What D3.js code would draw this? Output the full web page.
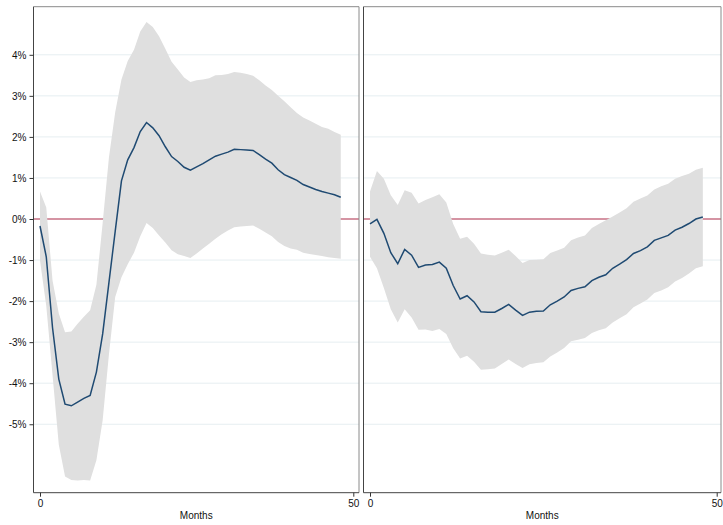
<!DOCTYPE html>
<html>
<head>
<meta charset="utf-8">
<title>Impulse responses</title>
<style>
    body, html {
        margin: 0;
        padding: 0;
        background: #fff;
        font-family: "Liberation Sans", Arial, sans-serif;
    }
    .axis .domain {
        display: none;
    }
    .axis text {
        font-size: 10px;
        fill: #111;
    }
    .axis line {
        stroke: #333;
    }
</style>
</head>
<body>
<div id="chart"></div>
<script src="https://d3js.org/d3.v7.min.js"></script>
<script>

    // months 0..48
    var months = d3.range(0, 49);

    // left panel: point estimate, upper and lower band (percent)
    var leftEst = [-0.17, -0.92, -2.65, -3.9, -4.51, -4.55, -4.46, -4.37, -4.3, -3.73,
        -2.8, -1.55, -0.3, 0.93, 1.44, 1.74, 2.13, 2.35, 2.22, 2.03,
        1.76, 1.52, 1.40, 1.26, 1.19, 1.27, 1.35, 1.44, 1.53, 1.58,
        1.63, 1.70, 1.69, 1.68, 1.67, 1.57, 1.46, 1.36, 1.20, 1.08,
        1.01, 0.94, 0.84, 0.78, 0.72, 0.67, 0.63, 0.59, 0.53];
    var leftUpper = [0.67, 0.28, -1.5, -2.3, -2.76, -2.74, -2.55, -2.38, -2.22, -1.6,
        -0.1, 1.5, 2.6, 3.4, 3.85, 4.12, 4.57, 4.8, 4.68, 4.45,
        4.15, 3.83, 3.64, 3.45, 3.34, 3.38, 3.40, 3.43, 3.50, 3.51,
        3.53, 3.58, 3.56, 3.53, 3.49, 3.38, 3.25, 3.14, 3.00, 2.87,
        2.72, 2.58, 2.47, 2.40, 2.32, 2.24, 2.20, 2.12, 2.05];
    var leftLower = [-1.01, -2.12, -3.8, -5.5, -6.27, -6.36, -6.37, -6.36, -6.37, -5.88,
        -4.9, -3.3, -1.9, -1.42, -1.1, -0.82, -0.42, -0.1, -0.22, -0.4,
        -0.57, -0.76, -0.86, -0.9, -0.95, -0.84, -0.72, -0.6, -0.48, -0.37,
        -0.28, -0.2, -0.18, -0.17, -0.16, -0.24, -0.33, -0.42, -0.56, -0.66,
        -0.72, -0.75, -0.82, -0.85, -0.88, -0.9, -0.93, -0.95, -0.97];

    // right panel
    var rightEst = [-0.12, -0.01, -0.35, -0.82, -1.09, -0.74, -0.88, -1.18, -1.12, -1.11,
        -1.05, -1.20, -1.62, -1.95, -1.87, -2.02, -2.26, -2.27, -2.27, -2.18,
        -2.08, -2.22, -2.35, -2.27, -2.25, -2.24, -2.09, -2.0, -1.90, -1.74,
        -1.69, -1.65, -1.50, -1.42, -1.36, -1.20, -1.10, -0.99, -0.84, -0.77,
        -0.68, -0.52, -0.46, -0.40, -0.27, -0.20, -0.11, 0.0, 0.05];
    var rightUpper = [0.67, 1.17, 0.98, 0.58, 0.34, 0.70, 0.64, 0.38, 0.46, 0.53,
        0.60, 0.40, -0.12, -0.48, -0.43, -0.60, -0.84, -0.87, -0.89, -0.82,
        -0.75, -0.90, -1.07, -1.0, -0.99, -0.98, -0.83, -0.77, -0.70, -0.52,
        -0.45, -0.40, -0.22, -0.12, -0.03, 0.06, 0.16, 0.26, 0.42, 0.50,
        0.57, 0.72, 0.80, 0.86, 0.98, 1.05, 1.10, 1.20, 1.25];
    var rightLower = [-0.92, -1.2, -1.68, -2.2, -2.52, -2.2, -2.4, -2.7, -2.69, -2.73,
        -2.68, -2.8, -3.15, -3.40, -3.33, -3.48, -3.67, -3.66, -3.64, -3.53,
        -3.42, -3.53, -3.63, -3.54, -3.51, -3.49, -3.35, -3.25, -3.14, -2.98,
        -2.94, -2.90, -2.78, -2.71, -2.66, -2.52, -2.42, -2.32, -2.15, -2.06,
        -1.96, -1.8, -1.74, -1.66, -1.52, -1.44, -1.33, -1.20, -1.15];

    var yTicks = [-5, -4, -3, -2, -1, 0, 1, 2, 3, 4];
    var xTicks = [0, 50];
    var xTitle = 'Months';

    var width = 723;
    var height = 525;
    var frameTop = 6.7;
    var frameBottom = 492.7;

    var svg = d3.select('#chart')
        .append('svg')
        .attr('width', width)
        .attr('height', height);

    var y = d3.scaleLinear()
        .domain([0, 4])
        .range([219, 54.8]);

    function drawPanel(opts) {
        var x = d3.scaleLinear().domain([0, 50]).range(opts.xRange);
        var g = svg.append('g');
        var left = opts.frame[0], right = opts.frame[1];

        // grid lines
        g.selectAll('.grid')
            .data(yTicks)
            .enter()
            .append('line')
            .attr('x1', left)
            .attr('x2', right)
            .attr('y1', function(d) { return y(d); })
            .attr('y2', function(d) { return y(d); })
            .attr('stroke', '#e6eef1')
            .attr('stroke-width', 1);

        // zero line (sits under the band)
        g.append('line')
            .attr('x1', left)
            .attr('x2', right)
            .attr('y1', y(0))
            .attr('y2', y(0))
            .attr('stroke', '#b8334f')
            .attr('stroke-width', 1.1);

        var rows = months.map(function(m, i) {
            return {m: m, est: opts.est[i], lo: opts.lower[i], hi: opts.upper[i]};
        });

        var area = d3.area()
            .x(function(d) { return x(d.m); })
            .y0(function(d) { return y(d.lo); })
            .y1(function(d) { return y(d.hi); });

        g.append('path')
            .datum(rows)
            .attr('d', area)
            .attr('fill', '#dfdfdf');

        var line = d3.line()
            .x(function(d) { return x(d.m); })
            .y(function(d) { return y(d.est); });

        g.append('path')
            .datum(rows)
            .attr('d', line)
            .attr('fill', 'none')
            .attr('stroke', '#1f4a72')
            .attr('stroke-width', 1.5);

        // frame: top/right light, left/bottom axis lines darker
        g.append('line')
            .attr('x1', left).attr('x2', right)
            .attr('y1', frameTop).attr('y2', frameTop)
            .attr('stroke', '#8a8a8a');
        g.append('line')
            .attr('x1', right).attr('x2', right)
            .attr('y1', frameTop).attr('y2', frameBottom)
            .attr('stroke', '#8a8a8a');
        g.append('line')
            .attr('x1', left).attr('x2', left)
            .attr('y1', frameTop).attr('y2', frameBottom)
            .attr('stroke', '#444');
        g.append('line')
            .attr('x1', left).attr('x2', right)
            .attr('y1', frameBottom).attr('y2', frameBottom)
            .attr('stroke', '#444');

        if (opts.showY) {
            g.append('g')
                .attr('class', 'axis')
                .attr('transform', 'translate(' + left + ',0)')
                .call(d3.axisLeft(y)
                    .tickValues(yTicks)
                    .tickSize(4)
                    .tickPadding(3)
                    .tickFormat(function(d) { return d + '%'; }));
        }

        g.append('g')
            .attr('class', 'axis')
            .attr('transform', 'translate(0,' + frameBottom + ')')
            .call(d3.axisBottom(x)
                .tickValues(xTicks)
                .tickSize(4)
                .tickPadding(3));

        g.append('text')
            .attr('x', (left + right) / 2)
            .attr('y', 519)
            .attr('text-anchor', 'middle')
            .style('font-size', '10px')
            .style('fill', '#111')
            .text(xTitle);
    }

    drawPanel({
        xRange: [40, 353.3],
        frame: [33.5, 359],
        est: leftEst, upper: leftUpper, lower: leftLower,
        showY: true
    });

    drawPanel({
        xRange: [370, 716.7],
        frame: [363.5, 721],
        est: rightEst, upper: rightUpper, lower: rightLower,
        showY: false
    });

</script>
</body>
</html>
